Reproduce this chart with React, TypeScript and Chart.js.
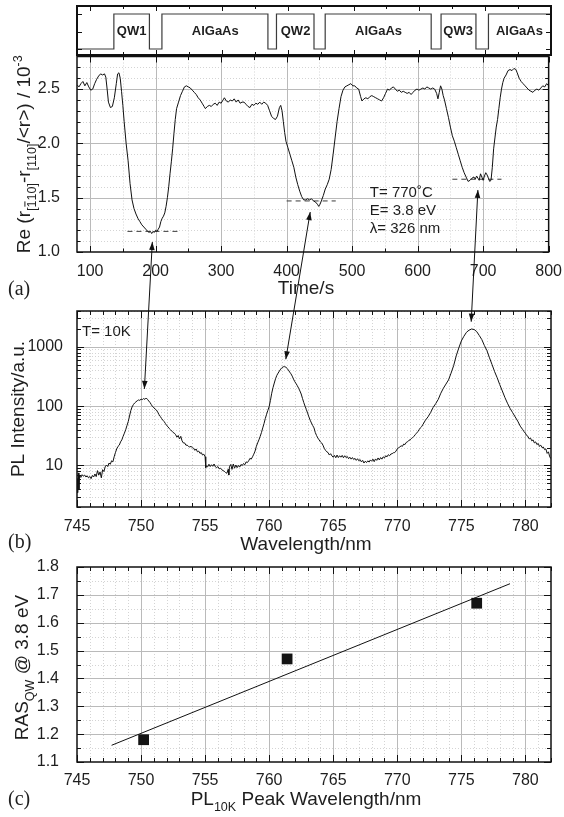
import React, { useEffect, useRef } from "react";
import { Chart, registerables } from "chart.js";
Chart.register(...registerables);

const W = 564;
const H = 817;
const FONT = '"Liberation Sans", Arial, Helvetica, sans-serif';
const SERIF = '"Liberation Serif", "Times New Roman", serif';
const INK = "#1e1e1e";
const GRID_MAJOR = "#bababa";
const GRID_MINOR = "#d4d4d4";

// ---------- layer schematic ----------
const layerTimes = [80, 136, 190, 209, 370, 383, 440, 457, 618, 633, 686, 705, 800];
const layerLevels = [0, 1, 0, 1, 0, 1, 0, 1, 0, 1, 0, 1, 1];
const layerLabels = ["QW1", "AlGaAs", "QW2", "AlGaAs", "QW3", "AlGaAs"];
const layerLabelTimes = [163, 290, 412, 538, 659, 752];

// ---------- panel (a): RAS transient ----------
const rasTime = [
  80, 83, 86, 89, 92, 95, 98, 101, 104, 107, 110, 113, 116, 119, 122, 124, 126, 128, 131, 134,
  137, 140, 142, 144, 146, 148, 150, 152, 155, 158, 161, 164, 167, 170, 173, 176, 179, 182, 185, 188,
  190, 192, 194, 196, 198, 200, 202, 204, 206, 208, 210, 212, 214, 216, 218, 220, 222, 224, 226, 228,
  230, 232, 235, 238, 241, 244, 247, 250, 253, 256, 259, 262, 265, 268, 271, 274, 276, 279, 282, 285,
  288, 291, 294, 297, 300, 303, 305, 308, 311, 314, 317, 320, 323, 326, 329, 332, 335, 338, 341, 344,
  347, 350, 353, 356, 359, 362, 365, 368, 371, 374, 377, 380, 383, 386, 389, 391, 393, 395, 397, 399,
  402, 405, 408, 411, 414, 417, 420, 423, 426, 429, 432, 435, 438, 441, 444, 447, 449, 451, 453, 456,
  459, 462, 465, 468, 471, 474, 477, 480, 483, 486, 489, 492, 495, 498, 501, 504, 507, 510, 513, 515,
  518, 521, 524, 527, 530, 533, 536, 539, 542, 545, 548, 551, 554, 557, 560, 563, 566, 569, 572, 575,
  578, 581, 584, 587, 590, 593, 596, 599, 602, 605, 608, 611, 614, 617, 620, 623, 626, 629, 631, 633,
  635, 637, 639, 641, 644, 647, 650, 653, 656, 659, 662, 665, 668, 671, 674, 677, 680, 683, 686, 688,
  690, 692, 694, 696, 698, 700, 702, 704, 706, 708, 710, 712, 714, 716, 718, 720, 722, 724, 726, 728,
  730, 732, 735, 738, 741, 744, 747, 750, 752, 755, 758, 761, 764, 767, 770, 773, 776, 779, 782, 785,
  788, 791, 794, 797, 800,
];
const rasValue = [
  2.54, 2.52, 2.55, 2.57, 2.53, 2.56, 2.52, 2.49, 2.5, 2.55, 2.59, 2.62, 2.64, 2.63, 2.64, 2.61, 2.5, 2.38, 2.33, 2.34,
  2.42, 2.55, 2.64, 2.65, 2.6, 2.48, 2.35, 2.2, 2.0, 1.84, 1.63, 1.48, 1.4, 1.35, 1.31, 1.28, 1.25, 1.23, 1.21, 1.19,
  1.18, 1.19, 1.17, 1.19, 1.18, 1.2, 1.19, 1.21, 1.23, 1.28, 1.31, 1.33, 1.36, 1.42, 1.5, 1.6, 1.72, 1.83, 1.95, 2.09,
  2.22, 2.32, 2.38, 2.44, 2.48, 2.52, 2.53, 2.52, 2.51, 2.49, 2.47, 2.45, 2.42, 2.4, 2.37, 2.34, 2.32, 2.34, 2.35, 2.34,
  2.36, 2.37, 2.35, 2.38, 2.37, 2.4, 2.42, 2.39, 2.38, 2.4, 2.39, 2.41, 2.38, 2.4, 2.37, 2.38, 2.38, 2.36, 2.34, 2.33,
  2.36, 2.35, 2.37, 2.36, 2.38, 2.36, 2.38, 2.37, 2.35, 2.3, 2.25, 2.23, 2.22, 2.25, 2.33, 2.35, 2.3, 2.2, 2.1, 2.02,
  1.96, 1.9, 1.84, 1.78, 1.69, 1.62, 1.56, 1.51, 1.48, 1.48, 1.49, 1.48, 1.49, 1.47, 1.46, 1.44, 1.42, 1.44, 1.47, 1.52,
  1.58, 1.62, 1.67, 1.76, 1.9, 2.05, 2.2, 2.32, 2.43, 2.49, 2.52, 2.53, 2.54, 2.55, 2.53, 2.53, 2.51, 2.5, 2.43, 2.39,
  2.41, 2.42, 2.41, 2.43, 2.44, 2.43, 2.42, 2.41, 2.4, 2.39, 2.42, 2.46, 2.5, 2.49, 2.51, 2.52, 2.5, 2.48, 2.49, 2.47,
  2.48, 2.47, 2.46, 2.47, 2.45, 2.47, 2.49, 2.5, 2.49, 2.5, 2.51, 2.5, 2.52, 2.51, 2.5, 2.51, 2.5, 2.46, 2.41, 2.47,
  2.53, 2.5, 2.44, 2.4, 2.32, 2.24, 2.15, 2.07, 2.02, 1.96, 1.9, 1.84, 1.78, 1.73, 1.69, 1.65, 1.66, 1.68, 1.69, 1.67,
  1.7, 1.68, 1.66, 1.72, 1.69, 1.66, 1.7, 1.73, 1.71, 1.68, 1.65, 1.66, 1.78, 1.95, 2.05, 2.15, 2.22, 2.32, 2.42, 2.5,
  2.56, 2.6, 2.63, 2.67, 2.68, 2.67, 2.69, 2.68, 2.65, 2.6, 2.57, 2.55, 2.53, 2.51, 2.49, 2.48, 2.47, 2.49, 2.5, 2.49,
  2.51, 2.53, 2.52, 2.55, 2.53,
];
const plateauStart = [157, 400, 653];
const plateauEnd = [234, 475, 728];
const plateauLevel = [1.19, 1.47, 1.67];
const timeTicks = [100, 200, 300, 400, 500, 600, 700, 800];
const rasTicks = [1.0, 1.5, 2.0, 2.5];
const conditionLines = ["T= 770\u02DAC", "E= 3.8 eV", "\u03BB= 326 nm"];
const conditionValues = [1.54, 1.375, 1.21];
const conditionTime = 527;

// ---------- panel (b): PL spectrum ----------
const plWl = [
  745.0, 745.05, 745.1, 745.15, 745.2, 745.3, 745.4, 745.5, 745.6, 745.7, 745.8, 745.9, 746.0, 746.1, 746.2, 746.3, 746.4, 746.5, 746.6, 746.7,
  746.8, 746.9, 747.0, 747.1, 747.2, 747.3, 747.4, 747.5, 747.6, 747.7, 747.8, 747.9, 748.0, 748.1, 748.2, 748.3, 748.4, 748.5, 748.6, 748.7,
  748.8, 748.9, 749.0, 749.1, 749.2, 749.3, 749.4, 749.5, 749.6, 749.7, 749.8, 749.9, 750.0, 750.1, 750.2, 750.3, 750.4, 750.5, 750.6, 750.7,
  750.8, 750.9, 751.0, 751.1, 751.2, 751.3, 751.4, 751.5, 751.6, 751.7, 751.8, 751.9, 752.0, 752.1, 752.2, 752.3, 752.4, 752.5, 752.6, 752.7,
  752.8, 752.9, 753.0, 753.1, 753.2, 753.3, 753.4, 753.5, 753.6, 753.7, 753.8, 753.9, 754.0, 754.1, 754.2, 754.3, 754.4, 754.5, 754.6, 754.7,
  754.8, 754.9, 755.0, 755.05, 755.1, 755.2, 755.3, 755.4, 755.5, 755.6, 755.7, 755.8, 755.9, 756.0, 756.1, 756.2, 756.3, 756.4, 756.5, 756.6,
  756.7, 756.8, 756.85, 756.9, 757.0, 757.1, 757.2, 757.3, 757.4, 757.5, 757.6, 757.7, 757.8, 757.9, 758.0, 758.1, 758.2, 758.3, 758.4, 758.5,
  758.6, 758.7, 758.8, 758.9, 759.0, 759.1, 759.2, 759.3, 759.4, 759.5, 759.6, 759.7, 759.8, 759.9, 760.0, 760.1, 760.2, 760.3, 760.4, 760.5,
  760.6, 760.7, 760.8, 760.9, 761.0, 761.1, 761.2, 761.3, 761.4, 761.5, 761.6, 761.7, 761.8, 761.9, 762.0, 762.1, 762.2, 762.3, 762.4, 762.5,
  762.6, 762.7, 762.8, 762.9, 763.0, 763.1, 763.2, 763.3, 763.4, 763.5, 763.6, 763.7, 763.8, 763.9, 764.0, 764.1, 764.2, 764.3, 764.4, 764.5,
  764.6, 764.7, 764.8, 764.9, 765.0, 765.1, 765.2, 765.3, 765.4, 765.5, 765.6, 765.7, 765.8, 765.9, 766.0, 766.1, 766.2, 766.3, 766.4, 766.5,
  766.6, 766.7, 766.8, 766.9, 767.0, 767.1, 767.2, 767.3, 767.4, 767.5, 767.6, 767.7, 767.8, 767.9, 768.0, 768.1, 768.2, 768.3, 768.4, 768.5,
  768.6, 768.7, 768.8, 768.9, 769.0, 769.1, 769.2, 769.3, 769.4, 769.5, 769.6, 769.7, 769.8, 769.9, 770.0, 770.1, 770.2, 770.3, 770.4, 770.5,
  770.6, 770.7, 770.8, 770.9, 771.0, 771.1, 771.2, 771.3, 771.4, 771.5, 771.6, 771.7, 771.8, 771.9, 772.0, 772.2, 772.4, 772.6, 772.8, 773.0,
  773.2, 773.4, 773.6, 773.8, 774.0, 774.2, 774.4, 774.6, 774.8, 775.0, 775.2, 775.4, 775.6, 775.8, 776.0, 776.2, 776.4, 776.6, 776.8, 777.0,
  777.2, 777.4, 777.6, 777.8, 778.0, 778.2, 778.4, 778.6, 778.8, 779.0, 779.2, 779.4, 779.6, 779.8, 779.9, 780.0, 780.1, 780.2, 780.3, 780.4,
  780.5, 780.6, 780.7, 780.8, 780.9, 781.0, 781.1, 781.2, 781.3, 781.4, 781.5, 781.6, 781.7, 781.8, 781.9, 782.0,
];
const plInt = [
  6.0, 3.5, 7.5, 4.0, 6.8, 6.3, 7.0, 6.6, 6.9, 6.4, 6.7, 6.2, 6.5, 6.0, 6.8, 6.4, 7.2, 6.5, 8.2, 6.9,
  7.8, 6.2, 8.5, 7.9, 9.5, 10.2, 9.6, 11.0, 10.5, 12.0, 11.5, 14.0, 16.5, 19.0, 21.0, 22.0, 25.0, 27.0, 31.0, 35.0,
  40.0, 47.0, 55.0, 68.0, 84.0, 97.0, 106, 113, 118, 123, 127, 125, 131, 129, 134, 130, 137, 130, 122, 115,
  106, 98, 94, 89, 86, 79, 72, 67, 62, 58, 55, 51, 47, 45, 42, 40, 38, 36, 35, 33,
  30, 32, 28, 31, 26, 24, 24, 22, 22, 21, 20.5, 21, 20, 19.5, 18, 19, 17, 17.5, 16, 16.5,
  15, 15.5, 14, 9.2, 9.8, 9.5, 10.5, 9.6, 10.3, 9.7, 10.6, 9.5, 9.2, 9.6, 8.8, 9.0, 8.5, 8.2, 8.0, 7.6,
  7.4, 8.6, 6.9, 9.5, 10.4, 8.6, 10.6, 9.0, 10.2, 9.2, 10.0, 9.4, 10.4, 10.0, 10.8, 10.3, 11.5, 11.2, 12.0, 13.2,
  12.8, 14.0, 15.5, 17.5, 21, 24, 27, 31, 36, 43, 51, 62, 73, 85, 98, 125, 165, 205, 245, 290,
  330, 360, 390, 420, 445, 460, 462, 455, 430, 405, 375, 350, 320, 285, 258, 240, 220, 200, 180, 160,
  135, 115, 100, 88, 76, 66, 58, 52, 47, 43, 36, 32, 29, 27, 25, 24, 22, 19.5, 18, 17,
  16.5, 15, 15.8, 14.5, 13.8, 14.8, 13.5, 15.0, 13.6, 14.6, 13.8, 14.8, 13.5, 14.6, 13.6, 14.2, 13.0, 13.8, 12.8, 13.6,
  12.6, 13.2, 12.2, 13.0, 12.0, 12.6, 11.5, 12.2, 11.0, 11.8, 11.2, 12.0, 11.4, 12.4, 11.8, 12.8, 11.6, 12.9, 12.2, 13.4,
  12.4, 13.6, 12.8, 14.0, 13.4, 14.6, 14.0, 15.2, 14.6, 15.6, 15.8, 16.4, 16.5, 17.5, 19.0, 20.0, 20.5, 21.5, 21.0, 23.0,
  22.5, 24.5, 25.0, 26.5, 27.0, 28.5, 29.5, 31.0, 33.0, 35.0, 37.0, 40.0, 43.0, 45.0, 49.0, 58, 66, 78, 95, 110,
  130, 165, 200, 235, 276, 360, 480, 700, 950, 1250, 1500, 1750, 1900, 1990, 1950, 1800, 1550, 1320, 1050, 860,
  650, 500, 380, 300, 230, 180, 140, 112, 92, 78, 66, 56, 46, 40, 37, 35, 32, 31, 28, 29,
  26, 27, 24, 25, 22.5, 23.5, 21, 22, 20, 20.5, 18.5, 19, 16, 17, 14, 13,
];
const wlTicks = [745, 750, 755, 760, 765, 770, 775, 780];
const plTicks = [10, 100, 1000];

// arrows linking panel (a) to panel (b)
const arrowTime = [195, 436, 692];
const arrowRas = [1.092, 1.368, 1.571];
const arrowWl = [750.26, 761.3, 775.77];
const arrowPl = [195, 616, 2640];

// ---------- panel (c): correlation ----------
const peakWl = [750.2, 761.4, 776.2];
const peakRas = [1.18, 1.47, 1.67];
const fitWl = [747.7, 778.8];
const fitRas = [1.16, 1.74];
const rasCTicks = [1.1, 1.2, 1.3, 1.4, 1.5, 1.6, 1.7, 1.8];

// ---------- helpers ----------
type Area = { l: number; r: number; t: number; b: number };
const areaS: Area = { l: 77, r: 551, t: 6, b: 55 };
const areaA: Area = { l: 77, r: 551, t: 56.5, b: 252 };
const areaB: Area = { l: 77, r: 551, t: 311, b: 507 };
const areaC: Area = { l: 77, r: 551, t: 567, b: 762 };

function steps(a: number, b: number, s: number): number[] {
  const out: number[] = [];
  for (let i = 0; a + i * s <= b + 1e-9; i++) out.push(+(a + i * s).toFixed(6));
  return out;
}
function logMinor(min: number, max: number): number[] {
  const out: number[] = [];
  for (let d = 1; d <= 1000; d *= 10) for (let k = 1; k <= 9; k++) { const v = k * d; if (v >= min && v <= max) out.push(v); }
  return out;
}

type Frame = {
  xMajor: number[]; xMinor: number[]; yMajor: number[]; yMinor: number[];
  gXMajor: number[]; gXMinor: number[]; gYMajor: number[]; gYMinor: number[];
  majorLen: number; minorLen: number; frameW: number;
};

function framePlugin(f: Frame) {
  return {
    id: "frameGrid",
    beforeDatasetsDraw(chart: any) {
      const { ctx, chartArea: a } = chart;
      const xs = chart.scales.x, ys = chart.scales.y;
      ctx.save();
      ctx.beginPath();
      ctx.rect(a.left, a.top, a.right - a.left, a.bottom - a.top);
      ctx.clip();
      ctx.lineWidth = 1;
      ctx.strokeStyle = GRID_MINOR;
      ctx.setLineDash([1, 2]);
      ctx.beginPath();
      for (const v of f.gXMinor) { const x = Math.round(xs.getPixelForValue(v)) + 0.5; ctx.moveTo(x, a.top); ctx.lineTo(x, a.bottom); }
      for (const v of f.gYMinor) { const y = Math.round(ys.getPixelForValue(v)) + 0.5; ctx.moveTo(a.left, y); ctx.lineTo(a.right, y); }
      ctx.stroke();
      ctx.setLineDash([]);
      ctx.strokeStyle = GRID_MAJOR;
      ctx.beginPath();
      for (const v of f.gXMajor) { const x = Math.round(xs.getPixelForValue(v)) + 0.5; ctx.moveTo(x, a.top); ctx.lineTo(x, a.bottom); }
      for (const v of f.gYMajor) { const y = Math.round(ys.getPixelForValue(v)) + 0.5; ctx.moveTo(a.left, y); ctx.lineTo(a.right, y); }
      ctx.stroke();
      ctx.restore();
    },
    afterDatasetsDraw(chart: any) {
      const { ctx, chartArea: a } = chart;
      const xs = chart.scales.x, ys = chart.scales.y;
      ctx.save();
      ctx.strokeStyle = "#111";
      ctx.lineWidth = 1;
      ctx.beginPath();
      const xt = (vals: number[], len: number) => {
        for (const v of vals) {
          const x = Math.round(xs.getPixelForValue(v)) + 0.5;
          ctx.moveTo(x, a.bottom); ctx.lineTo(x, a.bottom - len);
          ctx.moveTo(x, a.top); ctx.lineTo(x, a.top + len);
        }
      };
      const yt = (vals: number[], len: number) => {
        for (const v of vals) {
          const y = Math.round(ys.getPixelForValue(v)) + 0.5;
          ctx.moveTo(a.left, y); ctx.lineTo(a.left + len, y);
          ctx.moveTo(a.right, y); ctx.lineTo(a.right - len, y);
        }
      };
      xt(f.xMinor, f.minorLen); xt(f.xMajor, f.majorLen);
      yt(f.yMinor, f.minorLen); yt(f.yMajor, f.majorLen);
      ctx.stroke();
      ctx.lineWidth = f.frameW;
      ctx.strokeRect(a.left, a.top, a.right - a.left, a.bottom - a.top);
      ctx.restore();
    },
  };
}

type Seg = { t: string; k?: "sub" | "sup"; over?: boolean };
function drawRich(ctx: CanvasRenderingContext2D, segs: Seg[], x: number, y: number, size: number, rotate: boolean) {
  ctx.save();
  ctx.translate(x, y);
  if (rotate) ctx.rotate(-Math.PI / 2);
  ctx.fillStyle = INK;
  ctx.strokeStyle = INK;
  ctx.textBaseline = "alphabetic";
  ctx.textAlign = "left";
  const fontFor = (s: Seg) => `${s.k ? size * 0.66 : size}px ${FONT}`;
  let total = 0;
  for (const s of segs) { ctx.font = fontFor(s); total += ctx.measureText(s.t).width; }
  let cx = -total / 2;
  for (const s of segs) {
    ctx.font = fontFor(s);
    const fs = s.k ? size * 0.66 : size;
    const dy = s.k === "sub" ? size * 0.3 : s.k === "sup" ? -size * 0.42 : 0;
    ctx.fillText(s.t, cx, dy);
    const w = ctx.measureText(s.t).width;
    if (s.over) {
      ctx.lineWidth = 1;
      ctx.beginPath();
      ctx.moveTo(cx + w * 0.12, dy - fs * 0.86);
      ctx.lineTo(cx + w * 0.88, dy - fs * 0.86);
      ctx.stroke();
    }
    cx += w;
  }
  ctx.restore();
}
function drawText(ctx: CanvasRenderingContext2D, t: string, x: number, y: number, font: string, align: CanvasTextAlign, base: CanvasTextBaseline) {
  ctx.save();
  ctx.font = font; ctx.fillStyle = INK; ctx.textAlign = align; ctx.textBaseline = base;
  ctx.fillText(t, x, y);
  ctx.restore();
}
function arrowHead(ctx: CanvasRenderingContext2D, xt: number, yt: number, xf: number, yf: number) {
  const ang = Math.atan2(yt - yf, xt - xf);
  const L = 8, w = 2.8;
  const bx = xt - L * Math.cos(ang), by = yt - L * Math.sin(ang);
  ctx.beginPath();
  ctx.moveTo(xt, yt);
  ctx.lineTo(bx + w * Math.sin(ang), by - w * Math.cos(ang));
  ctx.lineTo(bx - w * Math.sin(ang), by + w * Math.cos(ang));
  ctx.closePath();
  ctx.fill();
}

function axisCfg(values: number[], fmt: (v: number) => string, padding: number, fit: (s: any) => void) {
  return {
    afterBuildTicks: (s: any) => { s.ticks = values.map((v) => ({ value: v })); },
    afterFit: fit,
    ticks: { autoSkip: false, maxRotation: 0, minRotation: 0, padding, color: INK, font: { family: FONT, size: 16 }, callback: (v: any) => fmt(Number(v)) },
    grid: { display: false },
    border: { display: false },
  };
}

const YW = 70;
const XH = 30;
function padFor(a: Area, yw: number, xh: number) {
  return { left: a.l - yw, right: W - a.r, top: a.t, bottom: H - a.b - xh };
}
const baseOpts = {
  responsive: false,
  animation: false,
  devicePixelRatio: 1,
  events: [],
  plugins: { legend: { display: false }, tooltip: { enabled: false } },
};

export default function App() {
  const sRef = useRef<HTMLCanvasElement>(null);
  const aRef = useRef<HTMLCanvasElement>(null);
  const bRef = useRef<HTMLCanvasElement>(null);
  const cRef = useRef<HTMLCanvasElement>(null);

  useEffect(() => {
    const charts: Chart[] = [];

    // ----- schematic -----
    const sText = {
      id: "sText",
      afterDatasetsDraw(chart: any) {
        const ctx = chart.ctx;
        layerLabels.forEach((lab, i) => {
          drawText(ctx, lab, chart.scales.x.getPixelForValue(layerLabelTimes[i]), chart.scales.y.getPixelForValue(0.5), `bold 13px ${FONT}`, "center", "middle");
        });
      },
    };
    charts.push(
      new Chart(sRef.current as HTMLCanvasElement, {
        type: "line",
        data: { datasets: [{ data: layerTimes.map((t, i) => ({ x: t, y: layerLevels[i] })), stepped: true, borderColor: "#3c3c3c", borderWidth: 1.2, pointRadius: 0, fill: false }] },
        options: {
          ...baseOpts,
          layout: { padding: padFor(areaS, 0, 0) },
          scales: {
            x: { type: "linear", display: false, min: 80, max: 800 },
            y: { type: "linear", display: false, min: -0.171, max: 1.229 },
          },
        } as any,
        plugins: [
          framePlugin({ xMajor: steps(100, 800, 100), xMinor: steps(150, 750, 100), yMajor: [0, 0.5, 1], yMinor: [], gXMajor: [], gXMinor: [], gYMajor: [], gYMinor: [], majorLen: 5, minorLen: 3, frameW: 2 }),
          sText,
        ] as any,
      })
    );

    // ----- panel (a) -----
    const aText = {
      id: "aText",
      afterDraw(chart: any) {
        const ctx = chart.ctx;
        const xs = chart.scales.x, ys = chart.scales.y;
        drawRich(ctx, [
          { t: "Re (r" }, { t: "[", k: "sub" }, { t: "1", k: "sub", over: true }, { t: "10]", k: "sub" }, { t: "-r" }, { t: "[110]", k: "sub" }, { t: "/<r>) / 10" }, { t: "-3", k: "sup" },
        ], 30, (areaA.t + areaA.b) / 2, 19, true);
        drawRich(ctx, [{ t: "Time/s" }], 306, 294, 19, false);
        drawText(ctx, "(a)", 8, 290, `20px ${SERIF}`, "left", "middle");
        conditionLines.forEach((t, i) => {
          drawText(ctx, t, xs.getPixelForValue(conditionTime), ys.getPixelForValue(conditionValues[i]), `15px ${FONT}`, "left", "middle");
        });
      },
    };
    const aDatasets: any[] = [
      { data: rasTime.map((t, i) => ({ x: t, y: rasValue[i] })), borderColor: "#111", borderWidth: 1, pointRadius: 0, tension: 0 },
    ];
    plateauLevel.forEach((lv, i) => {
      aDatasets.push({ data: [{ x: plateauStart[i], y: lv }, { x: plateauEnd[i], y: lv }], borderColor: "#3a3a3a", borderWidth: 1, borderDash: [5, 4], pointRadius: 0 });
    });
    const chartA = new Chart(aRef.current as HTMLCanvasElement, {
      type: "line",
      data: { datasets: aDatasets },
      options: {
        ...baseOpts,
        layout: { padding: padFor(areaA, YW, XH) },
        scales: {
          x: { type: "linear", min: 80, max: 800, ...axisCfg(timeTicks, (v) => String(v), 2, (s: any) => { s.height = XH; }) },
          y: { type: "linear", min: 1.0, max: 2.8, ...axisCfg(rasTicks, (v) => v.toFixed(1), 9, (s: any) => { s.width = YW; }) },
        },
      } as any,
      plugins: [
        framePlugin({ xMajor: timeTicks, xMinor: steps(150, 750, 100), yMajor: rasTicks, yMinor: steps(1.1, 2.7, 0.1), gXMajor: steps(100, 700, 100), gXMinor: steps(150, 750, 100), gYMajor: [1.5, 2.0, 2.5], gYMinor: steps(1.1, 2.7, 0.1), majorLen: 6, minorLen: 3.5, frameW: 1.5 }),
        aText,
      ] as any,
    });
    charts.push(chartA);

    // ----- panel (b) -----
    const bText = {
      id: "bText",
      afterDraw(chart: any) {
        const ctx = chart.ctx;
        drawRich(ctx, [{ t: "PL Intensity/a.u." }], 24, (areaB.t + areaB.b) / 2, 19, true);
        drawRich(ctx, [{ t: "Wavelength/nm" }], 306, 550, 19, false);
        drawText(ctx, "(b)", 8, 542.5, `20px ${SERIF}`, "left", "middle");
        drawText(ctx, "T= 10K", 82, 332, `15px ${FONT}`, "left", "middle");
        const ax = chartA.scales.x as any, ay = chartA.scales.y as any;
        const bx = chart.scales.x, by = chart.scales.y;
        ctx.save();
        ctx.strokeStyle = "#111"; ctx.fillStyle = "#111"; ctx.lineWidth = 1;
        arrowTime.forEach((t, i) => {
          const x0 = ax.getPixelForValue(t), y0 = ay.getPixelForValue(arrowRas[i]);
          const x1 = bx.getPixelForValue(arrowWl[i]), y1 = by.getPixelForValue(arrowPl[i]);
          ctx.beginPath(); ctx.moveTo(x0, y0); ctx.lineTo(x1, y1); ctx.stroke();
          arrowHead(ctx, x0, y0, x1, y1);
          arrowHead(ctx, x1, y1, x0, y0);
        });
        ctx.restore();
      },
    };
    charts.push(
      new Chart(bRef.current as HTMLCanvasElement, {
        type: "line",
        data: { datasets: [{ data: plWl.map((w, i) => ({ x: w, y: plInt[i] })), borderColor: "#111", borderWidth: 1, pointRadius: 0, tension: 0 }] },
        options: {
          ...baseOpts,
          layout: { padding: padFor(areaB, YW, XH) },
          scales: {
            x: { type: "linear", min: 745, max: 782, ...axisCfg(wlTicks, (v) => String(v), 2, (s: any) => { s.height = XH; }) },
            y: { type: "logarithmic", min: 2, max: 4000, ...axisCfg(plTicks, (v) => String(v), 6, (s: any) => { s.width = YW; }) },
          },
        } as any,
        plugins: [
          framePlugin({ xMajor: wlTicks, xMinor: steps(746, 782, 1), yMajor: plTicks, yMinor: logMinor(2, 4000), gXMajor: steps(750, 780, 5), gXMinor: steps(746, 781, 1), gYMajor: plTicks, gYMinor: logMinor(2, 4000), majorLen: 7, minorLen: 4, frameW: 1.5 }),
          bText,
        ] as any,
      })
    );

    // ----- panel (c) -----
    const cText = {
      id: "cText",
      afterDraw(chart: any) {
        const ctx = chart.ctx;
        drawRich(ctx, [{ t: "RAS" }, { t: "QW", k: "sub" }, { t: " @ 3.8 eV" }], 28, (areaC.t + areaC.b) / 2 + 3, 19, true);
        drawRich(ctx, [{ t: "PL" }, { t: "10K", k: "sub" }, { t: " Peak Wavelength/nm" }], 306, 805, 19, false);
        drawText(ctx, "(c)", 8, 800, `20px ${SERIF}`, "left", "middle");
      },
    };
    charts.push(
      new Chart(cRef.current as HTMLCanvasElement, {
        type: "line",
        data: {
          datasets: [
            { data: fitWl.map((w, i) => ({ x: w, y: fitRas[i] })), borderColor: "#111", borderWidth: 1, pointRadius: 0 },
            { data: peakWl.map((w, i) => ({ x: w, y: peakRas[i] })), showLine: false, pointStyle: "rect", pointRadius: 7.6, backgroundColor: "#141414", borderColor: "#141414", borderWidth: 0 },
          ],
        },
        options: {
          ...baseOpts,
          layout: { padding: padFor(areaC, YW, XH) },
          scales: {
            x: { type: "linear", min: 745, max: 782, ...axisCfg(wlTicks, (v) => String(v), 1, (s: any) => { s.height = XH; }) },
            y: { type: "linear", min: 1.1, max: 1.8, ...axisCfg(rasCTicks, (v) => v.toFixed(1), 10, (s: any) => { s.width = YW; }) },
          },
        } as any,
        plugins: [
          framePlugin({ xMajor: wlTicks, xMinor: steps(746, 782, 1), yMajor: rasCTicks, yMinor: steps(1.15, 1.75, 0.1), gXMajor: steps(750, 780, 5), gXMinor: steps(746, 781, 1), gYMajor: steps(1.2, 1.7, 0.1), gYMinor: steps(1.15, 1.75, 0.1), majorLen: 7, minorLen: 4, frameW: 1.5 }),
          cText,
        ] as any,
      })
    );

    return () => charts.forEach((c) => c.destroy());
  }, []);

  const cs: React.CSSProperties = { position: "absolute", left: 0, top: 0, width: W, height: H };
  return (
    <div style={{ position: "fixed", left: 0, top: 0, width: W, height: H, background: "#fff", overflow: "hidden" }}>
      <canvas ref={sRef} width={W} height={H} style={cs} />
      <canvas ref={aRef} width={W} height={H} style={cs} />
      <canvas ref={bRef} width={W} height={H} style={cs} />
      <canvas ref={cRef} width={W} height={H} style={cs} />
    </div>
  );
}
